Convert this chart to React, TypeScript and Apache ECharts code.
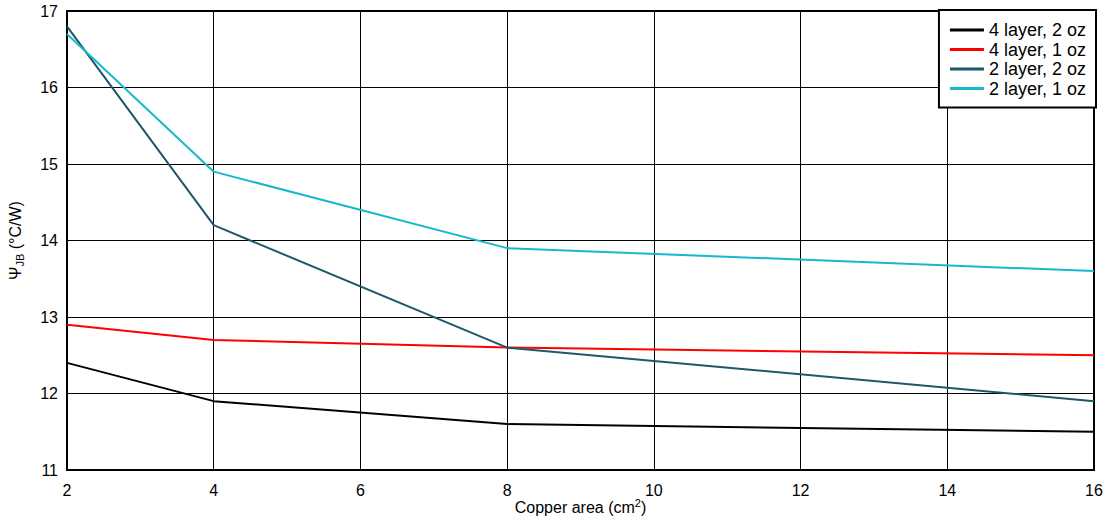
import React, { useEffect, useRef } from "react";
import * as echarts from "echarts";

const xValues = [2, 4, 8, 16];
const seriesNames = ["4 layer, 2 oz", "4 layer, 1 oz", "2 layer, 2 oz", "2 layer, 1 oz"];
const fourLayer2oz = [12.4, 11.9, 11.6, 11.5];
const fourLayer1oz = [12.9, 12.7, 12.6, 12.5];
const twoLayer2oz = [16.8, 14.2, 12.6, 11.9];
const twoLayer1oz = [16.7, 14.9, 13.9, 13.6];
const colors = ["#000000", "#ff0000", "#1d5868", "#17b8cc"];

export default function App() {
  const ref = useRef<HTMLDivElement>(null);
  useEffect(() => {
    if (!ref.current) return;
    const chart = echarts.init(ref.current, null, { renderer: "svg" });
    const allData = [fourLayer2oz, fourLayer1oz, twoLayer2oz, twoLayer1oz];
    const font = "'Liberation Sans', Arial, sans-serif";
    chart.setOption({
      animation: false,
      backgroundColor: "#ffffff",
      textStyle: { fontFamily: font },
      grid: {
        left: 67,
        right: 13,
        top: 11,
        bottom: 50,
        containLabel: false,
        outerBoundsMode: "none",
        show: true,
        borderColor: "#000",
        borderWidth: 2,
      },
      legend: {
        orient: "vertical",
        right: 11,
        top: 10,
        backgroundColor: "#fff",
        borderColor: "#000",
        borderWidth: 2,
        padding: [11, 10, 10, 11],
        itemWidth: 34,
        itemHeight: 3,
        itemGap: 1.5,
        icon: "rect",
        textStyle: { fontSize: 18, color: "#000", fontFamily: font },
        data: seriesNames,
      },
      xAxis: {
        type: "value",
        min: 2,
        max: 16,
        interval: 2,
        name: "Copper area (cm{sup|2})",
        nameLocation: "middle",
        nameGap: 27,
        nameMoveOverlap: false,
        nameTextStyle: {
          fontSize: 16,
          color: "#000",
          rich: { sup: { fontSize: 11, verticalAlign: "top", padding: [0, 0, 9, 0] } },
        },
        axisLine: { show: true, lineStyle: { color: "#000", width: 2 } },
        axisTick: { show: false },
        axisLabel: { fontSize: 16, color: "#000", margin: 12 },
        splitLine: { show: true, lineStyle: { color: "#000", width: 1 } },
      },
      yAxis: {
        type: "value",
        min: 11,
        max: 17,
        interval: 1,
        name: "{a|Ψ}{b|JB}{a| (°C/W)}",
        nameLocation: "middle",
        nameGap: 42,
        nameMoveOverlap: false,
        nameTextStyle: {
          color: "#000",
          rich: {
            a: { fontSize: 16, color: "#000" },
            b: { fontSize: 11, color: "#000", padding: [9, 0, 0, 0] },
          },
        },
        axisLine: { show: true, lineStyle: { color: "#000", width: 2 } },
        axisTick: { show: false },
        axisLabel: { fontSize: 16, color: "#000", margin: 9 },
        splitLine: { show: true, lineStyle: { color: "#000", width: 1 } },
      },
      series: seriesNames.map((name, i) => ({
        name,
        type: "line",
        data: xValues.map((x, j) => [x, allData[i][j]]),
        showSymbol: false,
        symbol: "none",
        lineStyle: { color: colors[i], width: 2 },
        itemStyle: { color: colors[i] },
      })),
    });
    return () => chart.dispose();
  }, []);
  return (
    <div
      ref={ref}
      style={{ position: "fixed", left: 0, top: 0, width: 1107, height: 520 }}
    />
  );
}
